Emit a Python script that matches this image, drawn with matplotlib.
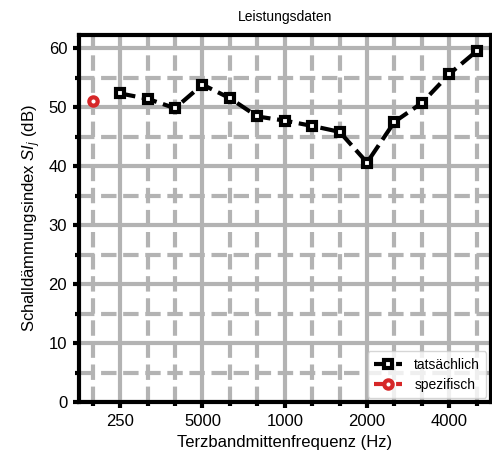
import matplotlib
matplotlib.use('Agg')
import matplotlib.pyplot as plt

plt.rcParams['font.family'] = ['Liberation Sans', 'DejaVu Sans']
plt.rcParams['mathtext.fontset'] = 'custom'
plt.rcParams['mathtext.rm'] = 'Liberation Sans'
plt.rcParams['mathtext.it'] = 'Liberation Sans:italic'

# Terzbaender in Reihenfolge der Achse
bands = [160, 250, 315, 400, 500, 630, 800, 1000, 1250, 1600, 2000, 2500, 3150, 4000, 5000]

freq_actual = [250, 315, 400, 500, 630, 800, 1000, 1250, 1600, 2000, 2500, 3150, 4000, 5000]
si_actual = [52.3, 51.4, 49.8, 53.8, 51.5, 48.4, 47.7, 46.8, 45.8, 40.6, 47.5, 50.7, 55.6, 59.5]

freq_spec = [160]
si_spec = [51.1]

major_bands = [250, 500, 1000, 2000, 4000]
major_labels = ['250', '5000', '1000', '2000', '4000']
minor_bands = [160, 315, 400, 630, 800, 1250, 1600, 2500, 3150, 5000]

x_actual = [bands.index(f) for f in freq_actual]
x_spec = [bands.index(f) for f in freq_spec]

fig = plt.figure(figsize=(4.92, 4.61), dpi=100)
ax = fig.add_axes([79 / 492, 1 - 402.3 / 461, (490.5 - 79) / 492, (402.3 - 35) / 461])

ax.set_xlim(-0.5, len(bands) - 0.5)
ax.set_ylim(0, 62.2)

ax.set_xticks([bands.index(f) for f in major_bands])
ax.set_xticklabels(major_labels)
ax.set_xticks([bands.index(f) for f in minor_bands], minor=True)
ax.set_yticks(range(0, 61, 10))
ax.set_yticks(range(5, 60, 10), minor=True)

lw = 3.0
ax.grid(which='major', color='#b3b3b3', linestyle='-', linewidth=lw)
ax.grid(which='minor', color='#b3b3b3', linestyle='--', linewidth=lw)
ax.set_axisbelow(True)

ax.plot(x_actual, si_actual, color='black', linestyle='--', linewidth=lw,
        marker='s', markersize=6, markerfacecolor='white', markeredgecolor='black',
        markeredgewidth=lw, label='tatsächlich')
ax.plot(x_spec, si_spec, color='#d62728', linestyle='--', linewidth=lw,
        marker='o', markersize=6, markerfacecolor='white', markeredgecolor='#d62728',
        markeredgewidth=lw, label='spezifisch')

for s in ax.spines.values():
    s.set_linewidth(lw)

ax.tick_params(which='major', direction='out', length=4.5, width=lw, labelsize=12, pad=4)
ax.tick_params(which='minor', direction='out', length=3, width=lw)

ax.set_xlabel('Terzbandmittenfrequenz (Hz)', fontsize=12)
ax.set_ylabel('Schalldämmungsindex $SI_j$ (dB)', fontsize=12)
ax.set_title('Leistungsdaten', fontsize=10, pad=10)

ax.legend(loc='lower right', fontsize=10, handlelength=2.0, handletextpad=0.9,
          framealpha=0.8, borderpad=0.45, labelspacing=0.45, borderaxespad=0.3)

fig.savefig('out.png', dpi=100)
